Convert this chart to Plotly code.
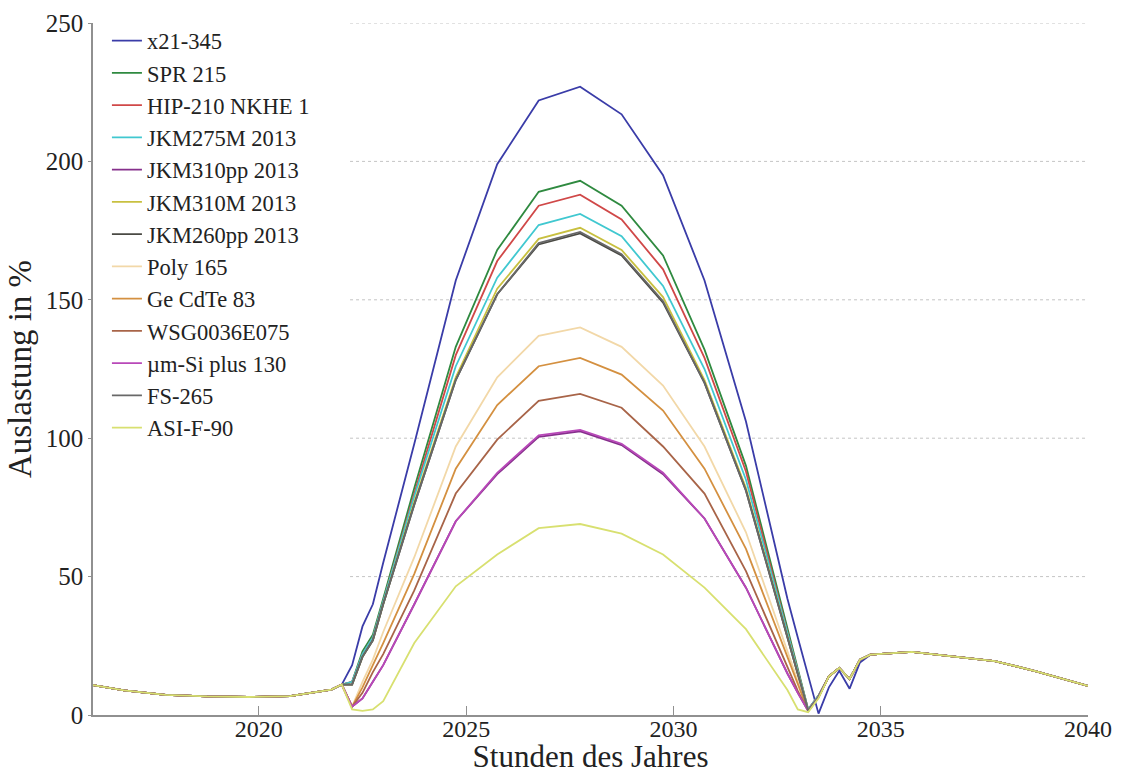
import plotly.graph_objects as go

# ---------------- data ----------------
names = ["x21-345", "SPR 215", "HIP-210 NKHE 1", "JKM275M 2013", "JKM310pp 2013",
         "JKM310M 2013", "JKM260pp 2013", "Poly 165", "Ge CdTe 83", "WSG0036E075",
         "\u00b5m-Si plus 130", "FS-265", "ASI-F-90"]
colors = ["#3a3ca8", "#2f8a40", "#d04848", "#40c8d0", "#86308c",
          "#c8c040", "#4a4a44", "#f2d8a8", "#d49040", "#a86448",
          "#b848b8", "#686868", "#d8e070"]

# shared early-morning part (all series identical)
x_pre = [2016.0, 2016.75, 2017.75, 2018.75, 2019.75, 2020.75, 2021.75, 2022.0]
y_pre = [10.8, 8.9, 7.3, 6.7, 6.5, 6.8, 9.2, 11.0]

# individual daytime part
x_mid = [2022.25, 2022.5, 2022.75, 2023.0, 2023.75, 2024.75, 2025.75, 2026.75,
         2027.75, 2028.75, 2029.75, 2030.75, 2031.75, 2032.75, 2033.0, 2033.25,
         2033.5, 2033.75, 2034.0, 2034.25, 2034.5]

y_x21 = [18, 32, 40, 55, 98, 157, 199, 222, 227, 217, 195, 157, 106, 42, 28, 14, 0.5, 10, 16, 9.5, 19]
y_spr = [12, 23, 29, 42, 82, 133, 168, 189, 193, 184, 166, 132, 90, 31, 16, 2, 7, 14, 17, 13, 20]
y_hip = [12, 22, 28, 41, 80, 130, 164, 184, 188, 179, 161, 129, 88, 30, 15.5, 2, 7, 14, 17, 13, 20]
y_jkm275 = [12, 22, 28, 41, 79, 126, 158, 177, 181, 173, 155, 125, 85, 29, 15, 2, 7, 14, 17, 13, 20]
y_jkm310pp = [3, 6, 12, 18, 40, 70, 87, 100.5, 102.5, 97.5, 87, 71, 46, 15, 8, 1.5, 6.5, 14, 17, 13, 20]
y_jkm310m = [11, 21, 27, 40, 77, 122, 154, 172, 176, 168, 151, 121, 82, 28.5, 15, 1.5, 6.5, 14, 17, 13, 20]
y_jkm260 = [11, 21, 27, 40, 76, 121, 152, 170, 174, 166, 149, 120, 81, 28, 15, 1.5, 6.5, 14, 17, 13, 20]
y_poly = [3, 12, 20, 30, 57, 97, 122, 137, 140, 133, 119, 97, 66, 23, 12, 1.5, 6.5, 14, 17, 13, 20]
y_gecdte = [3, 10, 18, 26, 51, 89, 112, 126, 129, 123, 110, 89, 60, 20.5, 10.8, 1.5, 6.5, 14, 17, 13, 20]
y_wsg = [3, 8, 15.5, 22, 45, 80, 99.5, 113.5, 116, 111, 97, 80, 52, 17, 8.7, 1.5, 6.5, 14, 17, 13, 20]
y_umsi = [3, 6, 12, 18, 40, 70, 87.5, 101, 103, 98, 87.5, 71, 46, 15, 8, 1.5, 6.5, 14, 17, 13, 20]
y_fs = [11, 21, 27, 40, 76, 121, 152, 170.5, 174.5, 166.5, 149.5, 120, 81, 28, 15, 1.5, 6.5, 14, 17, 13, 20]
y_asi = [2, 1.5, 2, 5, 26, 46.5, 58, 67.5, 69, 65.5, 58, 46, 31, 9, 2, 1, 6, 14, 17, 13, 20]

# shared evening part
x_post = [2034.75, 2035.75, 2036.75, 2037.75, 2038.75, 2039.75, 2040.0]
y_post = [21.8, 22.8, 21.2, 19.5, 15.8, 11.5, 10.5]

mids = [y_x21, y_spr, y_hip, y_jkm275, y_jkm310pp, y_jkm310m, y_jkm260,
        y_poly, y_gecdte, y_wsg, y_umsi, y_fs, y_asi]

y_ticks = [0, 50, 100, 150, 200, 250]
x_ticks = [2020, 2025, 2030, 2035, 2040]
grid_levels = [50, 100, 150, 200, 250]

# ---------------- figure ----------------
fig = go.Figure()
for name, col, ym in zip(names, colors, mids):
    fig.add_trace(go.Scatter(
        x=x_pre + x_mid + x_post,
        y=y_pre + ym + y_post,
        mode="lines", name=name,
        line=dict(color=col, width=1.8),
    ))

# dotted grid lines (only to the right of the legend, as in the original)
for g in grid_levels:
    fig.add_shape(type="line", xref="x", yref="y", x0=2022.2, x1=2040, y0=g, y1=g,
                  line=dict(color="#c4c4c4", width=1, dash="dot"), layer="below")

serif = "Liberation Serif"
fig.update_layout(
    width=1121, height=774,
    margin=dict(l=93, r=33, t=23, b=59),
    plot_bgcolor="white", paper_bgcolor="white",
    font=dict(family=serif, size=25, color="#222222"),
    showlegend=True,
    legend=dict(
        x=0.014, y=1.005, xanchor="left", yanchor="top",
        bgcolor="rgba(255,255,255,0)", borderwidth=0,
        font=dict(family=serif, size=22.5, color="#222222"),
        tracegroupgap=0, itemwidth=30, maxheight=740,
    ),
)
fig.update_xaxes(
    range=[2016, 2040], tickvals=x_ticks,
    showgrid=False, zeroline=False,
    showline=True, linecolor="#909090", linewidth=1.5,
    ticks="inside", ticklen=9, tickcolor="#909090",
    tickfont=dict(family=serif, size=24, color="#222222"),
    ticklabelstandoff=-9,
    title=dict(text="Stunden des Jahres", font=dict(family=serif, size=31, color="#222222"), standoff=4),
    automargin=False,
)
fig.update_yaxes(
    range=[0, 250], tickvals=y_ticks,
    showgrid=False, zeroline=False,
    showline=True, linecolor="#909090", linewidth=1.5,
    ticks="outside", ticklen=3, tickcolor="#909090",
    tickfont=dict(family=serif, size=25, color="#222222"),
    title=dict(text="Auslastung in %", font=dict(family=serif, size=33, color="#222222"), standoff=4),
    automargin=False,
)

fig.write_html("out.html")
